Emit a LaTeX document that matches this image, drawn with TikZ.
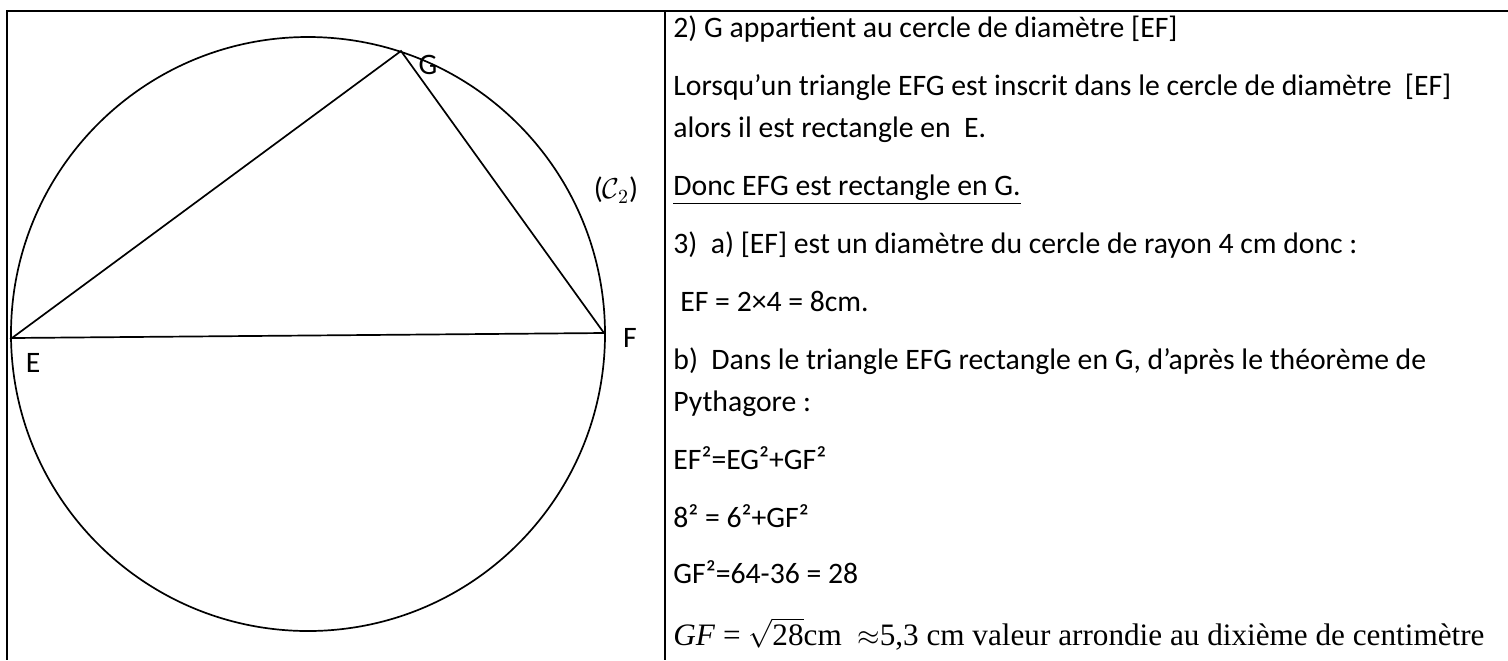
\documentclass[tikz,border=0pt]{standalone}
\usepackage{fontspec}
\setmainfont{Carlito}
\newfontfamily\timesfont{Liberation Serif}

\tikzset{
  ligne/.style={anchor=base west, inner sep=0pt, font=\fontsize{14.85}{18}\selectfont},
  etiq/.style={inner sep=0pt, font=\fontsize{14.85}{18}\selectfont},
  trait/.style={line width=0.85pt}
}

\begin{document}
\begin{tikzpicture}[x=0.5pt, y=-0.5pt]

\useasboundingbox (0,0) rectangle (1508,660);

% le tableau
\draw[line width=1.2pt] (1508,11) -- (7,11) -- (7,660);
\draw[line width=1.2pt] (665,11) -- (665,660);

% la figure
\coordinate (O) at (308,334);
\coordinate (E) at (12,338);
\coordinate (F) at (604,333);
\coordinate (G) at (401,51);

\draw[trait] (O) circle (297);
\draw[trait] (E) -- (F) -- (G) -- cycle;

\node[etiq] (nE) at (33,363) {E};
\node[etiq] (nF) at (630,338) {F};
\node[etiq] (nG) at (428,65) {G};
\node[etiq] (nC) at (616,190) {($\mathcal{C}_2$)};

% le texte
\node[ligne] (l1) at (673,37) {2) G appartient au cercle de diamètre [EF]};
\node[ligne] (l2) at (673,95) {Lorsqu’un triangle EFG est inscrit dans le cercle de diamètre~~[EF]};
\node[ligne] (l3) at (673,137) {alors il est rectangle en~~E.};
\node[ligne] (l4) at (673,195) {\underline{Donc EFG est rectangle en G.}};
\node[ligne] (l5) at (673,253) {3)~~a) [EF] est un diamètre du cercle de rayon 4 cm donc :};
\node[ligne] (l6) at (680,311) {EF = 2×4 = 8cm.};
\node[ligne] (l7) at (673,369) {b)~~Dans le triangle EFG rectangle en G, d’après le théorème de};
\node[ligne] (l8) at (673,411) {Pythagore :};
\node[ligne] (l9) at (673,469) {EF²=EG²+GF²};
\node[ligne] (l10) at (673,527) {8² = 6²+GF²};
\node[ligne] (l11) at (673,583) {GF²=64-36 = 28};
\node[ligne, font=\fontsize{15.6}{18}\timesfont] (l12) at (673,645) {\textit{GF} = $\sqrt{\mbox{28}}$cm~~$\approx$5,3 cm valeur arrondie au dixième de centimètre};

\end{tikzpicture}
\end{document}
